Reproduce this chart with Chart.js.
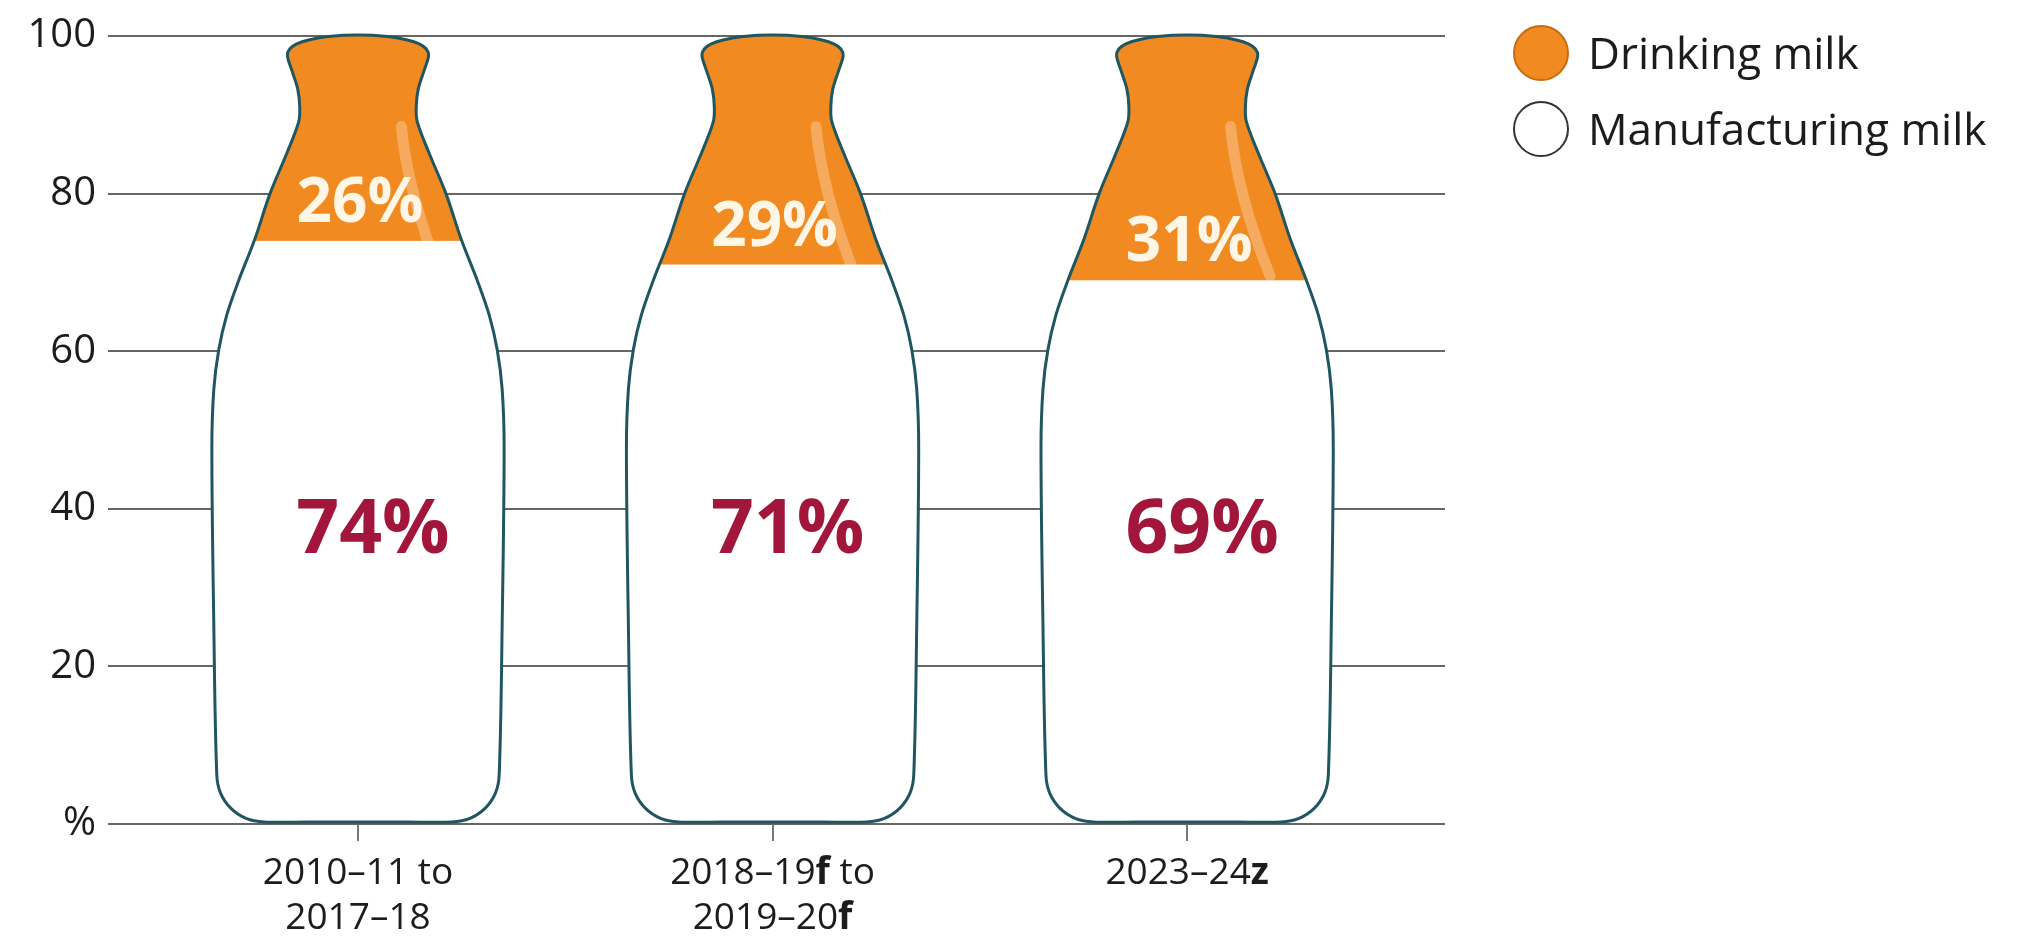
<!DOCTYPE html>
<html>
<head>
<meta charset="utf-8">
<script src="https://cdn.jsdelivr.net/npm/chart.js@4.4.1/dist/chart.umd.min.js"></script>
<style>
  html, body { margin: 0; padding: 0; background: #fff; }
  #wrap { width: 2019px; height: 937px; }
</style>
</head>
<body>
<div id="wrap"><canvas id="milkChart" width="2019" height="937"></canvas></div>
<script>
// data ----------------------------------------------
var seriesNames = ["Manufacturing milk", "Drinking milk"];
var periodPos = [0, 1, 2];
// *x* = bold part of the label
var periodLabels = [["2010–11 to", "2017–18"], ["2018–19*f* to", "2019–20*f*"], ["2023–24*z*"]];
var manufacturingMilk = [74, 71, 69];
var drinkingMilk = [26, 29, 31];
var yTicks = [0, 20, 40, 60, 80, 100];

// look ----------------------------------------------
var ORANGE = "#f18a21";
var OUTLINE = "#1f5660";
var RED = "#a2163c";
var TEXT = "#1c1c1c";
var LABEL_LEVEL = 37.8;   // where the big red % sits, in axis units

// bottle outline, right half: [down from top, out from centre] for a 800 x 148 bottle
var BOTTLE = [
  [0, 0], [1.5, 30], [5, 50], [9, 62], [14, 69], [21, 71.5], [36, 67], [55, 61], [73, 59], [88, 60],
  [120, 72], [161, 89], [209, 105], [250, 121], [285, 133], [320, 141], [360, 146], [420, 148],
  [600, 146], [752, 143], [770.4, 139.3], [785.9, 128.9], [796.3, 113.4], [800, 95], [800, 50], [800, 0]
];

// smooth closed curve through the points (chord-length tangents, no overshoot)
function bottlePath(ctx, cx, top, bottom, half) {
  var sy = (bottom - top) / 800, sx = half / 148;
  var pts = [];
  BOTTLE.forEach(function(p) { pts.push([cx + p[1] * sx, top + p[0] * sy]); });
  for (var k = BOTTLE.length - 2; k > 0; k--) pts.push([cx - BOTTLE[k][1] * sx, top + BOTTLE[k][0] * sy]);
  var n = pts.length;
  function dist(a, b) { return Math.hypot(a[0] - b[0], a[1] - b[1]); }
  var tan = pts.map(function(p, i) {
    var a = pts[(i - 1 + n) % n], b = pts[(i + 1) % n];
    var d = dist(a, p) + dist(p, b);
    return [(b[0] - a[0]) / d, (b[1] - a[1]) / d];
  });
  ctx.beginPath();
  ctx.moveTo(pts[0][0], pts[0][1]);
  for (var i = 0; i < n; i++) {
    var j = (i + 1) % n, p1 = pts[i], p2 = pts[j], L = dist(p1, p2) / 3;
    ctx.bezierCurveTo(
      p1[0] + tan[i][0] * L, p1[1] + tan[i][1] * L,
      p2[0] - tan[j][0] * L, p2[1] - tan[j][1] * L,
      p2[0], p2[1]);
  }
  ctx.closePath();
}

// draws the stacked bars as bottles
var bottlePlugin = {
  id: "bottles",
  beforeDatasetsDraw: function(chart) {
    var ctx = chart.ctx;
    var lower = chart.getDatasetMeta(0).data;
    var upper = chart.getDatasetMeta(1).data;
    var dsLow = chart.data.datasets[0], dsUp = chart.data.datasets[1];
    var yScale = chart.scales.y;

    for (var i = 0; i < lower.length; i++) {
      var cx = lower[i].x, half = lower[i].width / 2;
      var top = upper[i].y - 1, bottom = lower[i].base - 1, split = upper[i].base;
      var sy = (bottom - top) / 800, sx = half / 148;

      ctx.save();
      bottlePath(ctx, cx, top, bottom, half);
      ctx.fillStyle = dsLow.backgroundColor;
      ctx.fill();
      ctx.clip();
      ctx.fillStyle = dsUp.backgroundColor;
      ctx.fillRect(cx - half - 5, top - 5, 2 * half + 10, split - top + 5);
      // shine on the shoulder
      ctx.beginPath();
      ctx.moveTo(cx + 44 * sx, top + 93 * sy);
      ctx.quadraticCurveTo(cx + 50 * sx, top + 160 * sy, cx + 84 * sx, top + 245 * sy);
      ctx.lineWidth = 11;
      ctx.lineCap = "round";
      ctx.strokeStyle = "rgba(255,255,255,0.28)";
      ctx.stroke();
      ctx.restore();

      bottlePath(ctx, cx, top, bottom, half);
      ctx.lineWidth = 3;
      ctx.strokeStyle = OUTLINE;
      ctx.stroke();

      ctx.textAlign = "center";
      ctx.textBaseline = "alphabetic";
      ctx.font = '700 62px "Open Sans"';
      ctx.fillStyle = "#fff6e6";
      ctx.fillText(dsUp.data[i].y + "%", cx + 2, split - 41 + 22);
      ctx.font = '700 75px "Open Sans"';
      ctx.fillStyle = RED;
      ctx.fillText(dsLow.data[i].y + "%", cx + 15, yScale.getPixelForValue(LABEL_LEVEL) + 27);
    }
    return false;
  }
};

// category labels with bold bits, under the tick marks
var periodLabelPlugin = {
  id: "periodLabels",
  afterDraw: function(chart) {
    var ctx = chart.ctx, xs = chart.scales.x;
    ctx.save();
    ctx.textBaseline = "alphabetic";
    ctx.textAlign = "left";
    ctx.fillStyle = TEXT;
    xs.ticks.forEach(function(t, i) {
      var px = xs.getPixelForValue(t.value);
      periodLabels[i].forEach(function(line, j) {
        var parts = line.split("*");
        var fonts = parts.map(function(p, k) { return (k % 2 ? "700" : "400") + ' 37px "Open Sans"'; });
        var w = 0;
        parts.forEach(function(p, k) { ctx.font = fonts[k]; w += ctx.measureText(p).width; });
        var x = px - w / 2, y = 884 + j * 45;
        parts.forEach(function(p, k) {
          ctx.font = fonts[k];
          ctx.fillText(p, x, y);
          x += ctx.measureText(p).width;
        });
      });
    });
    ctx.restore();
  }
};

// legend to the right of the plot
var sideLegendPlugin = {
  id: "sideLegend",
  afterDraw: function(chart) {
    var ctx = chart.ctx, left = chart.chartArea.right;
    ctx.save();
    [1, 0].forEach(function(di, row) {
      var ds = chart.data.datasets[di];
      var cy = 53 + row * 76;
      ctx.beginPath();
      ctx.arc(left + 96, cy, 27, 0, 2 * Math.PI);
      ctx.fillStyle = ds.backgroundColor;
      ctx.fill();
      ctx.lineWidth = 2;
      ctx.strokeStyle = ds.borderColor;
      ctx.stroke();
      ctx.font = '400 44px "Open Sans"';
      ctx.fillStyle = TEXT;
      ctx.textAlign = "left";
      ctx.textBaseline = "alphabetic";
      ctx.fillText(ds.label, left + 143, cy + 16);
    });
    ctx.restore();
  }
};

function points(vals) {
  return vals.map(function(v, i) { return { x: periodPos[i], y: v }; });
}

var ctx = document.getElementById("milkChart").getContext("2d");
var milkChart = new Chart(ctx, {
  type: "bar",
  data: {
    datasets: [
      { label: seriesNames[0], data: points(manufacturingMilk), backgroundColor: "#ffffff", borderColor: "#333333" },
      { label: seriesNames[1], data: points(drinkingMilk), backgroundColor: ORANGE, borderColor: "#c96a10" }
    ]
  },
  options: {
    responsive: false,
    animation: false,
    events: [],
    barPercentage: 0.705,
    categoryPercentage: 1,
    layout: { padding: { top: 25, right: 574, bottom: 96, left: 0 } },
    plugins: { legend: { display: false }, tooltip: { enabled: false } },
    scales: {
      x: {
        type: "linear",
        stacked: true,
        offset: false,
        min: -0.603,
        max: 2.622,
        afterBuildTicks: function(s) { s.ticks = periodPos.map(function(v) { return { value: v }; }); },
        border: { display: false },
        grid: { offset: false, drawOnChartArea: false, drawTicks: true, tickLength: 17, color: "#777777", lineWidth: 2 },
        ticks: { display: false }
      },
      y: {
        stacked: true,
        min: 0,
        max: 100,
        afterBuildTicks: function(s) { s.ticks = yTicks.map(function(v) { return { value: v }; }); },
        afterFit: function(s) { s.width = 108; },
        border: { display: false },
        grid: { color: "#666666", lineWidth: 2, drawTicks: false },
        ticks: {
          padding: 12,
          color: TEXT,
          font: { family: '"Open Sans"', size: 40, weight: 400 },
          callback: function(v) { return v === 0 ? "%" : v; }
        }
      }
    }
  },
  plugins: [bottlePlugin, periodLabelPlugin, sideLegendPlugin]
});
</script>
</body>
</html>
